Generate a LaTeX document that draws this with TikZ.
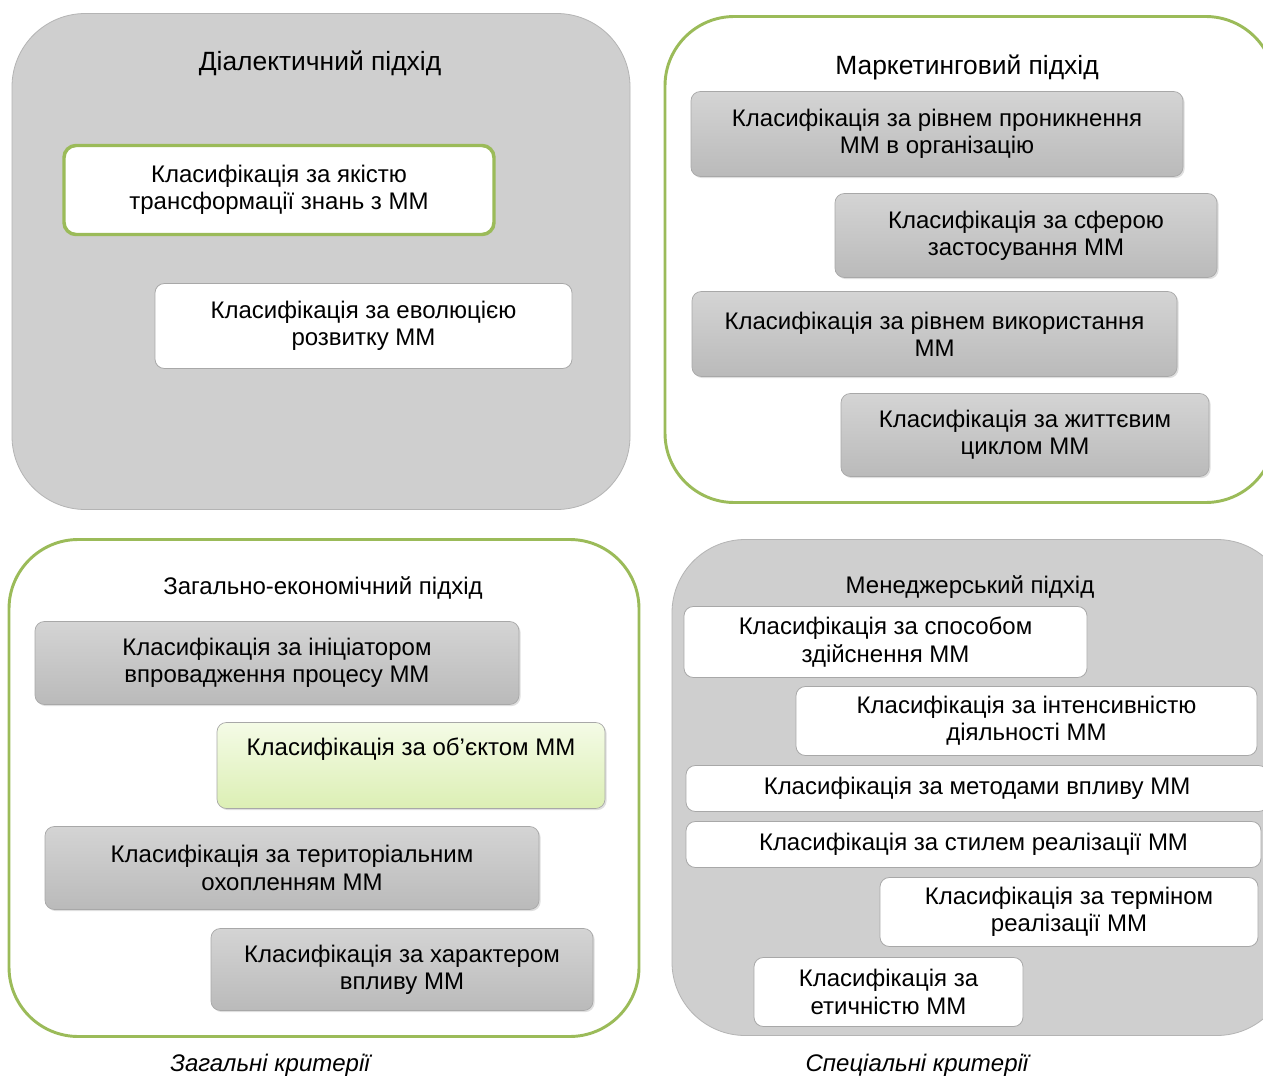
\documentclass[tikz,border=0pt]{standalone}
\usepackage{fontspec}
\setmainfont{Liberation Sans}
\usetikzlibrary{shadows}
\definecolor{grn}{HTML}{9BBB59}
\definecolor{bigg}{HTML}{CFCFCF}
\definecolor{bigb}{HTML}{B4B4B4}
\definecolor{gtop}{HTML}{D4D4D4}
\definecolor{gbot}{HTML}{BABABA}
\definecolor{gedge}{HTML}{A8A8A8}
\definecolor{ltop}{HTML}{F4FBE6}
\definecolor{lbot}{HTML}{DCEFB4}
\tikzset{
  big/.style={draw=bigb, line width=0.6pt, fill=bigg, rounded corners=55pt},
  greenbig/.style={draw=grn, line width=2.2pt, fill=white, rounded corners=52pt},
  inner/.style={align=center, inner sep=0pt, font=\fontsize{18}{20.5}\selectfont},
  graybox/.style={inner, draw=gedge, line width=0.5pt, top color=gtop, bottom color=gbot, rounded corners=7pt,
     drop shadow={opacity=0.25, shadow xshift=1.2pt, shadow yshift=-1.2pt}},
  whitebox/.style={inner, draw=gedge, line width=0.6pt, fill=white, rounded corners=7pt},
  greenbox/.style={inner, draw=grn, line width=2.6pt, fill=white, rounded corners=9pt},
  limebox/.style={inner, draw=gedge, line width=0.5pt, top color=ltop, bottom color=lbot, rounded corners=7pt,
     drop shadow={opacity=0.25, shadow xshift=1.2pt, shadow yshift=-1.2pt}},
  title/.style={font=\fontsize{18}{20.5}\selectfont, inner sep=0pt},
  bigtitle/.style={font=\fontsize{19.8}{22}\selectfont, inner sep=0pt},
  capt/.style={font=\fontsize{18}{20}\selectfont\itshape, inner sep=0pt}
}
\newcommand\mybox[7]{\node[#1, minimum width={(#5-#3)*0.75pt}, minimum height={(#6-#4)*0.75pt}] (#2) at ({(#3+#5)/2},{(#4+#6)/2+1.5}) {#7};}
\begin{document}
\begin{tikzpicture}[x=0.75pt,y=-0.75pt]
\useasboundingbox (0,0) rectangle (1263,1077);
\clip (0,0) rectangle (1263,1077);
\fill[white] (0,0) rectangle (1263,1077);

% Top-left: dialectic approach
\mybox{big}{dial}{12}{12}{630}{508}{}
\node[bigtitle] (dialt) at (320,63) {Діалектичний підхід};
\mybox{greenbox}{d1}{64}{144}{494}{233}{Класифікація за якістю\\трансформації знань з ММ}
\mybox{whitebox}{d2}{155}{282}{572}{367}{Класифікація за еволюцією\\розвитку ММ}

% Top-right: marketing approach
\mybox{greenbig}{mark}{665}{15}{1275}{501}{}
\node[bigtitle] (markt) at (967,67) {Маркетинговий підхід};
\mybox{graybox}{m1}{691}{90}{1183}{175}{Класифікація за рівнем проникнення\\ММ в організацію}
\mybox{graybox}{m2}{835}{192}{1217}{276}{Класифікація за сферою\\застосування ММ}
\mybox{graybox}{m3}{692}{290}{1177}{375}{Класифікація за рівнем використання\\ММ}
\mybox{graybox}{m4}{841}{392}{1209}{475}{Класифікація за життєвим\\циклом ММ}

% Bottom-left: general economic approach
\mybox{greenbig}{econ}{9}{538}{639}{1035}{}
\node[title] (econt) at (323,588) {Загально-економічний підхід};
\mybox{graybox}{e1}{35}{620}{519}{703}{Класифікація за ініціатором\\впровадження процесу ММ}
\mybox{limebox}{e2}{217}{721}{605}{807}{}
\node[inner] (e2t) at (411,749) {Класифікація за об’єктом ММ};
\mybox{graybox}{e3}{45}{825}{539}{908}{Класифікація за територіальним\\охопленням ММ}
\mybox{graybox}{e4}{211}{927}{593}{1009}{Класифікація за характером\\впливу ММ}

% Bottom-right: managerial approach
\mybox{big}{mng}{672}{538}{1290}{1034}{}
\node[title] (mngt) at (970,587) {Менеджерський підхід};
\mybox{whitebox}{n1}{684}{605}{1087}{676}{Класифікація за способом\\здійснення ММ}
\mybox{whitebox}{n2}{796}{685}{1257}{754}{Класифікація за інтенсивністю\\діяльності ММ}
\mybox{whitebox}{n3}{686}{764}{1268}{810}{Класифікація за методами впливу ММ}
\mybox{whitebox}{n4}{686}{820}{1261}{866}{Класифікація за стилем реалізації ММ}
\mybox{whitebox}{n5}{880}{876}{1258}{945}{Класифікація за терміном\\реалізації ММ}
\mybox{whitebox}{n6}{754}{956}{1023}{1025}{Класифікація за\\етичністю ММ}

% Captions
\node[capt] (c1) at (270,1065) {Загальні критерії};
\node[capt] (c2) at (917,1065) {Спеціальні критерії};
\end{tikzpicture}
\end{document}
